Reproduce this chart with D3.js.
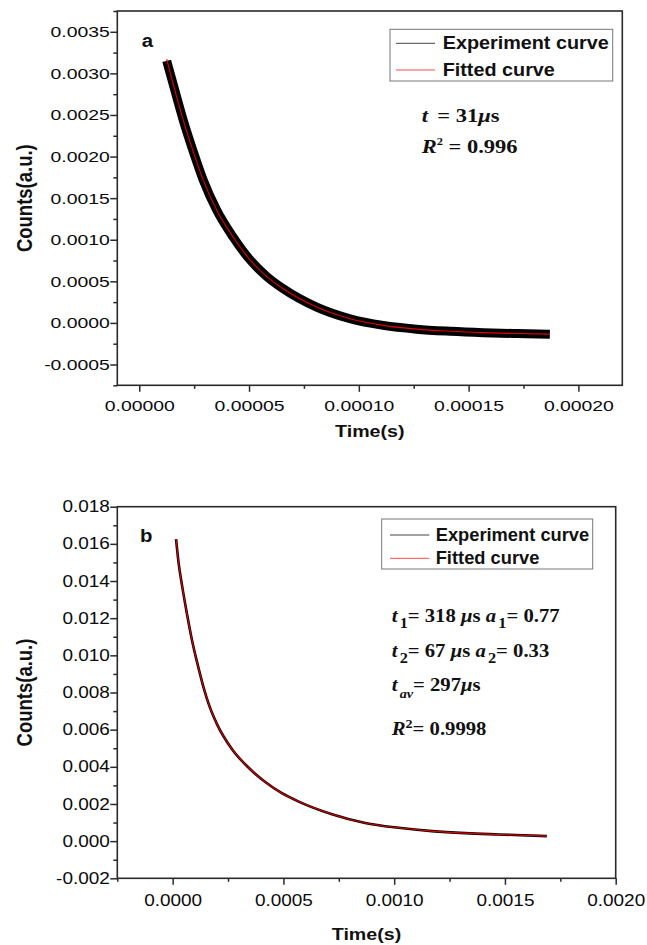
<!DOCTYPE html>
<meta charset="utf-8">
<script src="https://d3js.org/d3.v7.min.js"></script>
<style>
  body { margin: 0; background: #fff; }
  text { white-space: pre; }
</style>
<div id="chart"></div>
<script>
// ---- data ----
// panel a : single exponential decay
const timeA = [12.5e-6, 17.0e-6, 20.0e-6, 24.6e-6, 29.1e-6, 35.2e-6, 42.8e-6, 50.4e-6, 58.0e-6,
               65.6e-6, 80.8e-6, 96.0e-6, 111.1e-6, 126.3e-6, 141.5e-6, 156.7e-6, 171.9e-6, 187.0e-6];
const expA  = [3.15e-3, 2.72e-3, 2.44e-3, 2.06e-3, 1.72e-3, 1.36e-3, 1.03e-3, 0.76e-3, 0.56e-3,
               0.41e-3, 0.19e-3, 0.05e-3, -0.03e-3, -0.075e-3, -0.10e-3, -0.117e-3, -0.128e-3, -0.135e-3];
const fitA  = [3.17e-3, 2.72e-3, 2.44e-3, 2.06e-3, 1.72e-3, 1.36e-3, 1.03e-3, 0.76e-3, 0.56e-3,
               0.41e-3, 0.19e-3, 0.05e-3, -0.03e-3, -0.075e-3, -0.10e-3, -0.117e-3, -0.128e-3, -0.135e-3];

// panel b : double exponential decay
const timeB = [15.3e-6, 27e-6, 42.4e-6, 65e-6, 87.5e-6, 117e-6, 140e-6, 162e-6, 200e-6, 268e-6, 343e-6,
               418e-6, 493e-6, 569e-6, 719e-6, 869e-6, 1020e-6, 1170e-6, 1320e-6, 1471e-6, 1689e-6];
const expB  = [16.26e-3, 14.95e-3, 13.75e-3, 12.2e-3, 10.8e-3, 9.3e-3, 8.25e-3, 7.4e-3, 6.3e-3, 4.95e-3, 3.95e-3,
               3.18e-3, 2.58e-3, 2.13e-3, 1.45e-3, 0.98e-3, 0.72e-3, 0.54e-3, 0.43e-3, 0.36e-3, 0.27e-3];
const fitB  = [16.26e-3, 14.95e-3, 13.75e-3, 12.2e-3, 10.8e-3, 9.3e-3, 8.25e-3, 7.4e-3, 6.3e-3, 4.95e-3, 3.95e-3,
               3.18e-3, 2.58e-3, 2.13e-3, 1.45e-3, 0.98e-3, 0.72e-3, 0.54e-3, 0.43e-3, 0.36e-3, 0.27e-3];

// tick values
const xTicksA = [0, 0.00005, 0.0001, 0.00015, 0.0002];
const xMinorA = [0.000025, 0.000075, 0.000125, 0.000175];
const yTicksA = [-0.0005, 0, 0.0005, 0.001, 0.0015, 0.002, 0.0025, 0.003, 0.0035];
const yMinorA = [-0.00075, -0.00025, 0.00025, 0.00075, 0.00125, 0.00175, 0.00225, 0.00275, 0.00325, 0.00375];
const xTicksB = [0, 0.0005, 0.001, 0.0015, 0.002];
const xMinorB = [-0.00025, 0.00025, 0.00075, 0.00125, 0.00175];
const yTicksB = [-0.002, 0, 0.002, 0.004, 0.006, 0.008, 0.010, 0.012, 0.014, 0.016, 0.018];
const yMinorB = [-0.001, 0.001, 0.003, 0.005, 0.007, 0.009, 0.011, 0.013, 0.015, 0.017];

const legendLabels = ["Experiment curve", "Fitted curve"];

const SANS = "'Liberation Sans', Arial, Helvetica, sans-serif";
const SERIF = "'Liberation Serif', 'Times New Roman', serif";
const AXIS = "#2a2a2a";

const svg = d3.select("#chart")
  .append("svg")
  .attr("width", 647)
  .attr("height", 945)
  .style("display", "block")
  .style("background", "#fff");

// text with horizontal stretch, built from styled pieces
function richText(x0, y0, size, sx, parts, family) {
  const t = svg.append("text")
    .attr("transform", `translate(${x0},${y0}) scale(${sx},1)`)
    .attr("font-family", family)
    .attr("font-size", size)
    .attr("font-weight", "bold")
    .attr("fill", "#111");
  parts.forEach(p => {
    t.append("tspan")
      .text(p.s)
      .attr("font-style", p.it ? "italic" : null)
      .attr("font-size", p.fs || null)
      .attr("dx", p.dx || null)
      .attr("dy", p.dy || null);
  });
  return t;
}

function drawPanel(p) {
  const x = d3.scaleLinear().domain(p.xDomain).range([p.left, p.right]);
  const y = d3.scaleLinear().domain(p.yDomain).range([p.bottom, p.top]);

  const styleAxis = g => {
    g.attr("color", AXIS).attr("font-family", SANS).attr("font-size", p.tickFont);
    g.select(".domain").remove();
    g.selectAll("line").attr("stroke-width", 1.5);
    g.selectAll("text").attr("fill", "#0a0a0a");
  };

  // minor ticks
  svg.append("g")
    .attr("transform", `translate(0,${p.bottom})`)
    .call(d3.axisBottom(x).tickValues(p.xMinor).tickSize(3.5).tickFormat(""))
    .call(styleAxis);
  svg.append("g")
    .attr("transform", `translate(${p.left},0)`)
    .call(d3.axisLeft(y).tickValues(p.yMinor).tickSize(4).tickFormat(""))
    .call(styleAxis);

  // major ticks + labels
  svg.append("g")
    .attr("transform", `translate(0,${p.bottom})`)
    .call(d3.axisBottom(x).tickValues(p.xTicks).tickSize(6.5).tickFormat(d => d.toFixed(p.xDec)))
    .call(styleAxis)
    .call(g => g.selectAll("text")
      .attr("y", p.xLabelGap)
      .attr("transform", `scale(${p.tickSx},1)`));
  svg.append("g")
    .attr("transform", `translate(${p.left},0)`)
    .call(d3.axisLeft(y).tickValues(p.yTicks).tickSize(7).tickFormat(d => d.toFixed(p.yDec)))
    .call(styleAxis)
    .call(g => g.selectAll("text")
      .attr("x", -7.5 / p.tickSx)
      .attr("transform", `scale(${p.tickSx},1)`));

  // frame
  svg.append("rect")
    .attr("x", p.left).attr("y", p.top)
    .attr("width", p.right - p.left).attr("height", p.bottom - p.top)
    .attr("fill", "none").attr("stroke", AXIS).attr("stroke-width", 1.6);

  const line = d3.line()
    .x(d => x(d[0]))
    .y(d => y(d[1]))
    .curve(d3.curveMonotoneX);

  const expData = d3.zip(p.time, p.exp);
  const fitData = d3.zip(p.time, p.fit);

  svg.append("path").datum(expData).attr("d", line)
    .attr("fill", "none").attr("stroke", "#000")
    .attr("stroke-width", p.expWidth).attr("stroke-linejoin", "round");
  svg.append("path").datum(fitData).attr("d", line)
    .attr("fill", "none").attr("stroke", "#e00000")
    .attr("stroke-width", 1.1);

  // axis titles
  svg.append("text")
    .attr("transform", `translate(31.5,${(p.top + p.bottom) / 2}) rotate(-90) scale(1,1.16)`)
    .attr("text-anchor", "middle")
    .attr("font-family", SANS).attr("font-size", 18.5).attr("font-weight", "bold")
    .attr("fill", "#111")
    .text("Counts(a.u.)");
  svg.append("text")
    .attr("transform", `translate(${(p.left + p.right) / 2},${p.titleY}) scale(1.19,1)`)
    .attr("text-anchor", "middle")
    .attr("font-family", SANS).attr("font-size", 16.5).attr("font-weight", "bold")
    .attr("fill", "#111")
    .text("Time(s)");

  // panel letter
  richText(p.letterX, p.letterY, 18.5, 1.1, [{s: p.letter}], SANS);

  // legend
  const L = p.legend;
  svg.append("rect")
    .attr("x", L.x0).attr("y", L.y0)
    .attr("width", L.x1 - L.x0).attr("height", L.y1 - L.y0)
    .attr("fill", "#fff").attr("stroke", "#777").attr("stroke-width", 1);
  const legColors = ["#444", "#ff4a4a"];
  legendLabels.forEach((lab, i) => {
    svg.append("line")
      .attr("x1", L.lx0).attr("x2", L.lx1)
      .attr("y1", L.ly[i]).attr("y2", L.ly[i])
      .attr("stroke", legColors[i]).attr("stroke-width", 1);
    richText(L.tx, L.ty[i], L.size, L.sx, [{s: lab}], SANS);
  });

  // fit results
  p.notes.forEach(n => richText(p.noteX, n.y, p.noteSize, p.noteSx, n.parts, SERIF));
}

drawPanel({
  left: 117.3, right: 622.3, top: 11, bottom: 385.3,
  xDomain: [-0.00001, 0.00022], yDomain: [-0.00075, 0.00375],
  xTicks: xTicksA, xMinor: xMinorA, yTicks: yTicksA, yMinor: yMinorA,
  xDec: 5, yDec: 4, tickFont: 15.5, tickSx: 1.25, xLabelGap: 14.5,
  time: timeA, exp: expA, fit: fitA, expWidth: 9,
  titleY: 437, letter: "a", letterX: 141.7, letterY: 47,
  legend: {x0: 390, x1: 612.7, y0: 29.3, y1: 81, lx0: 396, lx1: 435, ly: [43.3, 70],
           tx: 442.7, ty: [49.3, 76], size: 18, sx: 1.1},
  noteX: 421.7, noteSize: 18, noteSx: 1.25,
  notes: [
    {y: 122, parts: [{s: "t", it: 1}, {s: " = 31", dx: 3}, {s: "μ", it: 1}, {s: "s"}]},
    {y: 153.3, parts: [{s: "R", it: 1}, {s: "2", fs: 10, dy: -8}, {s: " = 0.996", dy: 8}]}
  ]
});

drawPanel({
  left: 117.3, right: 615.7, top: 506.7, bottom: 878.3,
  xDomain: [-0.00025, 0.002], yDomain: [-0.002, 0.018],
  xTicks: xTicksB, xMinor: xMinorB, yTicks: yTicksB, yMinor: yMinorB,
  xDec: 4, yDec: 3, tickFont: 15.8, tickSx: 1.2, xLabelGap: 16,
  time: timeB, exp: expB, fit: fitB, expWidth: 2.6,
  titleY: 940, letter: "b", letterX: 140, letterY: 541.7,
  legend: {x0: 381.7, x1: 592.7, y0: 519, y1: 569, lx0: 390, lx1: 429.3, ly: [535, 558.3],
           tx: 435.7, ty: [540.7, 564], size: 17.5, sx: 1.046},
  noteX: 391.7, noteSize: 19, noteSx: 1.09,
  notes: [
    {y: 621.7, parts: [{s: "t", it: 1}, {s: "1", fs: 15, dx: 2, dy: 6}, {s: "= 318 ", dy: -6},
                       {s: "μ", it: 1}, {s: "s "}, {s: "a", it: 1}, {s: "1", fs: 15, dx: 2, dy: 6},
                       {s: "= 0.77", dy: -6}]},
    {y: 656.7, parts: [{s: "t", it: 1}, {s: "2", fs: 15, dx: 2, dy: 6}, {s: "= 67 ", dy: -6},
                       {s: "μ", it: 1}, {s: "s "}, {s: "a", it: 1}, {s: "2", fs: 15, dx: 2, dy: 6},
                       {s: "= 0.33", dy: -6}]},
    {y: 690.7, parts: [{s: "t", it: 1}, {s: "av", it: 1, fs: 13, dx: 2, dy: 7}, {s: "= 297", dy: -7},
                       {s: "μ", it: 1}, {s: "s"}]},
    {y: 735, parts: [{s: "R", it: 1}, {s: "2", fs: 13, dy: -7}, {s: "= 0.9998", dy: 7}]}
  ]
});
</script>
